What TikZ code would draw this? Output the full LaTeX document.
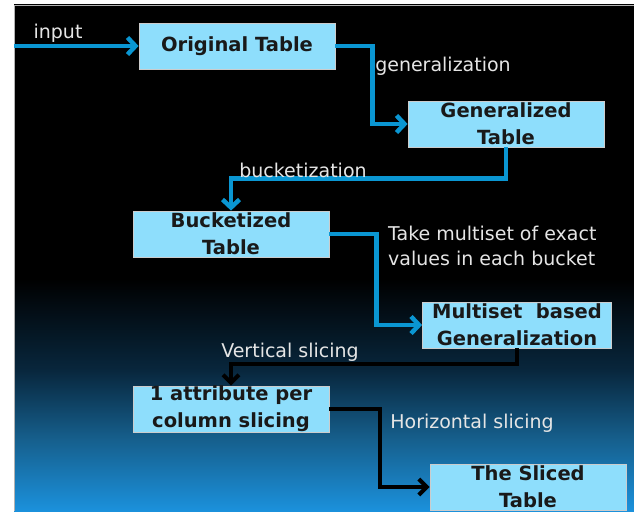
\documentclass[tikz,border=0pt]{standalone}
\usepackage{fontspec}
\setmainfont{DejaVu Sans}
\usetikzlibrary{arrows.meta}

\definecolor{boxblue}{RGB}{142,222,252}
\definecolor{linkblue}{RGB}{10,150,210}
\definecolor{bgblue}{RGB}{27,145,220}
\definecolor{bgmid}{RGB}{22,96,142}
\definecolor{bgdark}{RGB}{8,38,60}
\pgfdeclareverticalshading{bgfade}{100bp}{color(0bp)=(bgblue); color(25bp)=(bgblue); color(32bp)=(bgmid); color(39bp)=(bgdark); color(48bp)=(black); color(100bp)=(black)}

\begin{document}
\begin{tikzpicture}[x=1pt,y=-1pt,
		tablebox/.style={draw=white!80!black, fill=boxblue, line width=0.8pt, minimum width=196pt, minimum height=46pt, inner xsep=2pt, inner ysep=0pt, align=center, text=black!90, font=\fontsize{19.5}{27}\selectfont\bfseries},
		steplabel/.style={text=white!90!black, inner sep=0pt, font=\fontsize{19}{25}\selectfont},
		bluelink/.style={draw=linkblue, line width=4.5pt, -{Straight Barb[length=8pt,width=17pt]}},
		blacklink/.style={draw=black, line width=4pt, -{Straight Barb[length=8pt,width=16pt]}}]

		\useasboundingbox (0,0) rectangle (634,511);
		\shade [shading=bgfade] (14,5) rectangle (634,511);
		\draw [gray!60, line width=0.7pt] (14,511) -- (14,5) -- (634,5);

		% tables
		\node [tablebox] (orig) at (237,46) {Original Table};
		\node [tablebox] (gen) at (506,124) {Generalized\\Table};
		\node [tablebox] (buck) at (231,234) {Bucketized\\Table};
		\node [tablebox, minimum width=189pt] (multi) at (517,325) {Multiset\ \ based\\Generalization};
		\node [tablebox] (attr) at (231,409) {1 attribute per\\column slicing};
		\node [tablebox] (sliced) at (528,487) {The Sliced\\Table};

		% steps
		\coordinate (in) at (14,46);
		\draw [bluelink] (in) -- (orig.west);
		\draw [bluelink] (orig.east) -- ++(37,0) |- (gen.west);
		\draw [bluelink] (gen.south) -- ++(0,31) -| (buck.north);
		\draw [bluelink] (buck.east) -- ++(47,0) |- (multi.west);
		\draw [blacklink] (multi.south) -- ++(0,16) -| (attr.north);
		\draw [blacklink] (attr.east) -- ++(51,0) |- (sliced.west);

		\node [steplabel] (l-in) at (58,33) {input};
		\node [steplabel] (l-gen) at (443,66) {generalization};
		\node [steplabel] (l-buck) at (303,170) {bucketization};
		\node [steplabel, align=left, anchor=west] (l-multi) at (388,246) {Take multiset of exact\\values in each bucket};
		\node [steplabel] (l-vert) at (290,352) {Vertical slicing};
		\node [steplabel] (l-hor) at (472,423) {Horizontal slicing};

\end{tikzpicture}
\end{document}
